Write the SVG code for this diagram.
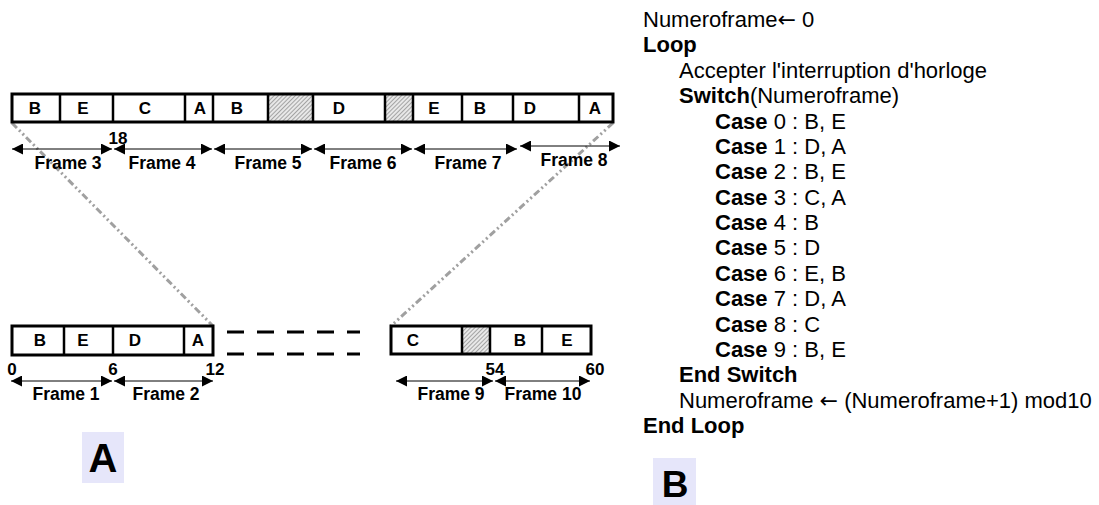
<svg xmlns="http://www.w3.org/2000/svg" width="1099" height="505" viewBox="0 0 1099 505">
<defs>
<pattern id="hatch" width="3" height="3" patternUnits="userSpaceOnUse" patternTransform="rotate(45)">
<rect width="3" height="3" fill="#e8e8e8"/>
<line x1="0" y1="0" x2="0" y2="3" stroke="#777" stroke-width="1.2"/>
</pattern>
<marker id="ah" viewBox="0 0 10 10" refX="10" refY="5" markerWidth="13" markerHeight="11" markerUnits="userSpaceOnUse" orient="auto-start-reverse">
<path d="M0,0 L10,5 L0,10 z" fill="#000"/>
</marker>
</defs>
<style>
.bar{fill:none;stroke:#000;stroke-width:3}
.div{stroke:#000;stroke-width:2.5}
.hat{fill:url(#hatch)}
.cell{font-family:"Liberation Sans",Arial,sans-serif;font-weight:bold;font-size:17px;text-anchor:middle;fill:#000}
.fr{font-family:"Liberation Sans",Arial,sans-serif;font-weight:bold;font-size:17.5px;text-anchor:middle;fill:#000}
.num{font-family:"Liberation Sans",Arial,sans-serif;font-weight:bold;font-size:17px;text-anchor:middle;fill:#000}
.arr{stroke:#000;stroke-width:1;fill:none;marker-start:url(#ah);marker-end:url(#ah)}
.zoom{stroke:#a0a0a0;stroke-width:3;stroke-dasharray:7 3 2 3 2 3;fill:none}
.dash{stroke:#000;stroke-width:3;stroke-dasharray:17 13}
.code{font-family:"Liberation Sans",Arial,sans-serif;font-size:22px;fill:#000}
.b{font-weight:bold}
.ar{font-family:"DejaVu Sans",sans-serif}
.big{font-family:"Liberation Sans",Arial,sans-serif;font-weight:bold;text-anchor:middle;fill:#000}
</style>

<g id="connectors">
<line class="zoom" x1="12" y1="123" x2="213" y2="326"/>
<line class="zoom" x1="613" y1="123" x2="391" y2="326"/>
<line class="dash" x1="227" y1="332" x2="360" y2="332"/>
<line class="dash" x1="227" y1="354" x2="360" y2="354"/>
</g>

<g id="top-bar">
<rect x="12" y="94" width="601" height="28" fill="#fff"/>
<rect class="hat" x="268" y="94" width="45" height="28"/>
<rect class="hat" x="385" y="94" width="28" height="28"/>
<rect class="bar" x="12" y="94" width="601" height="28"/>
<g class="div">
<line x1="60" y1="94" x2="60" y2="122"/>
<line x1="113" y1="94" x2="113" y2="122"/>
<line x1="185" y1="94" x2="185" y2="122"/>
<line x1="213" y1="94" x2="213" y2="122"/>
<line x1="268" y1="94" x2="268" y2="122"/>
<line x1="313" y1="94" x2="313" y2="122"/>
<line x1="385" y1="94" x2="385" y2="122"/>
<line x1="413" y1="94" x2="413" y2="122"/>
<line x1="462" y1="94" x2="462" y2="122"/>
<line x1="513" y1="94" x2="513" y2="122"/>
<line x1="579" y1="94" x2="579" y2="122"/>
</g>
<text class="cell" x="35" y="114">B</text>
<text class="cell" x="83" y="114">E</text>
<text class="cell" x="145" y="114">C</text>
<text class="cell" x="200" y="114">A</text>
<text class="cell" x="237" y="114">B</text>
<text class="cell" x="339" y="114">D</text>
<text class="cell" x="434" y="114">E</text>
<text class="cell" x="480" y="114">B</text>
<text class="cell" x="530" y="114">D</text>
<text class="cell" x="595" y="114">A</text>
</g>

<g id="top-frames">
<line class="arr" x1="12" y1="149" x2="112" y2="149"/>
<line class="arr" x1="114" y1="149" x2="212" y2="149"/>
<line class="arr" x1="214" y1="149" x2="312" y2="149"/>
<line class="arr" x1="314" y1="149" x2="412" y2="149"/>
<line class="arr" x1="414" y1="149" x2="517" y2="149"/>
<line class="arr" x1="520" y1="146" x2="620" y2="146"/>
<text class="num" x="118" y="144">18</text>
<text class="fr" x="68" y="169">Frame 3</text>
<text class="fr" x="162" y="169">Frame 4</text>
<text class="fr" x="268" y="169">Frame 5</text>
<text class="fr" x="363" y="169">Frame 6</text>
<text class="fr" x="468" y="169">Frame 7</text>
<text class="fr" x="574" y="166">Frame 8</text>
</g>

<g id="bottom-left-bar">
<rect x="12" y="326" width="201" height="29" fill="#fff"/>
<rect class="bar" x="12" y="326" width="201" height="29"/>
<g class="div">
<line x1="64" y1="326" x2="64" y2="355"/>
<line x1="113" y1="326" x2="113" y2="355"/>
<line x1="184" y1="326" x2="184" y2="355"/>
</g>
<text class="cell" x="40" y="346">B</text>
<text class="cell" x="83" y="346">E</text>
<text class="cell" x="135" y="346">D</text>
<text class="cell" x="198" y="346">A</text>
<text class="num" x="12" y="375">0</text>
<text class="num" x="113" y="375">6</text>
<text class="num" x="215" y="375">12</text>
<line class="arr" x1="11" y1="381" x2="112" y2="381"/>
<line class="arr" x1="114" y1="381" x2="213" y2="381"/>
<text class="fr" x="66" y="400">Frame 1</text>
<text class="fr" x="166" y="400">Frame 2</text>
</g>

<g id="bottom-right-bar">
<rect x="391" y="326" width="200" height="28" fill="#fff"/>
<rect class="hat" x="462" y="326" width="28" height="28"/>
<rect class="bar" x="391" y="326" width="200" height="28"/>
<g class="div">
<line x1="462" y1="326" x2="462" y2="354"/>
<line x1="490" y1="326" x2="490" y2="354"/>
<line x1="542" y1="326" x2="542" y2="354"/>
</g>
<text class="cell" x="413" y="346">C</text>
<text class="cell" x="520" y="346">B</text>
<text class="cell" x="567" y="346">E</text>
<text class="num" x="495" y="375">54</text>
<text class="num" x="595" y="375">60</text>
<line class="arr" x1="396" y1="381" x2="493" y2="381"/>
<line class="arr" x1="495" y1="381" x2="590" y2="381"/>
<text class="fr" x="451" y="400">Frame 9</text>
<text class="fr" x="543" y="400">Frame 10</text>
</g>

<g id="label-A">
<rect x="82" y="432" width="42" height="51" fill="#e6e6fa"/>
<text class="big" x="103" y="472" font-size="40">A</text>
</g>

<g id="label-B">
<rect x="653" y="458" width="43" height="47" fill="#e6e6fa"/>
<text class="big" x="675" y="497" font-size="37">B</text>
</g>

<g id="code">
<text class="code" x="643" y="27">Numeroframe<tspan class="ar">←</tspan> 0</text>
<text class="code b" x="643" y="52.4">Loop</text>
<text class="code" x="679" y="77.8">Accepter l'interruption d'horloge</text>
<text class="code" x="679" y="103.1"><tspan class="b">Switch</tspan>(Numeroframe)</text>
<text class="code" x="715" y="128.5"><tspan class="b">Case</tspan> 0 : B, E</text>
<text class="code" x="715" y="153.9"><tspan class="b">Case</tspan> 1 : D, A</text>
<text class="code" x="715" y="179.3"><tspan class="b">Case</tspan> 2 : B, E</text>
<text class="code" x="715" y="204.6"><tspan class="b">Case</tspan> 3 : C, A</text>
<text class="code" x="715" y="230"><tspan class="b">Case</tspan> 4 : B</text>
<text class="code" x="715" y="255.4"><tspan class="b">Case</tspan> 5 : D</text>
<text class="code" x="715" y="280.8"><tspan class="b">Case</tspan> 6 : E, B</text>
<text class="code" x="715" y="306.1"><tspan class="b">Case</tspan> 7 : D, A</text>
<text class="code" x="715" y="331.5"><tspan class="b">Case</tspan> 8 : C</text>
<text class="code" x="715" y="356.9"><tspan class="b">Case</tspan> 9 : B, E</text>
<text class="code b" x="679" y="382.3">End Switch</text>
<text class="code" x="679" y="407.6">Numeroframe <tspan class="ar">←</tspan> (Numeroframe+1) mod10</text>
<text class="code b" x="643" y="433">End Loop</text>
</g>
</svg>
